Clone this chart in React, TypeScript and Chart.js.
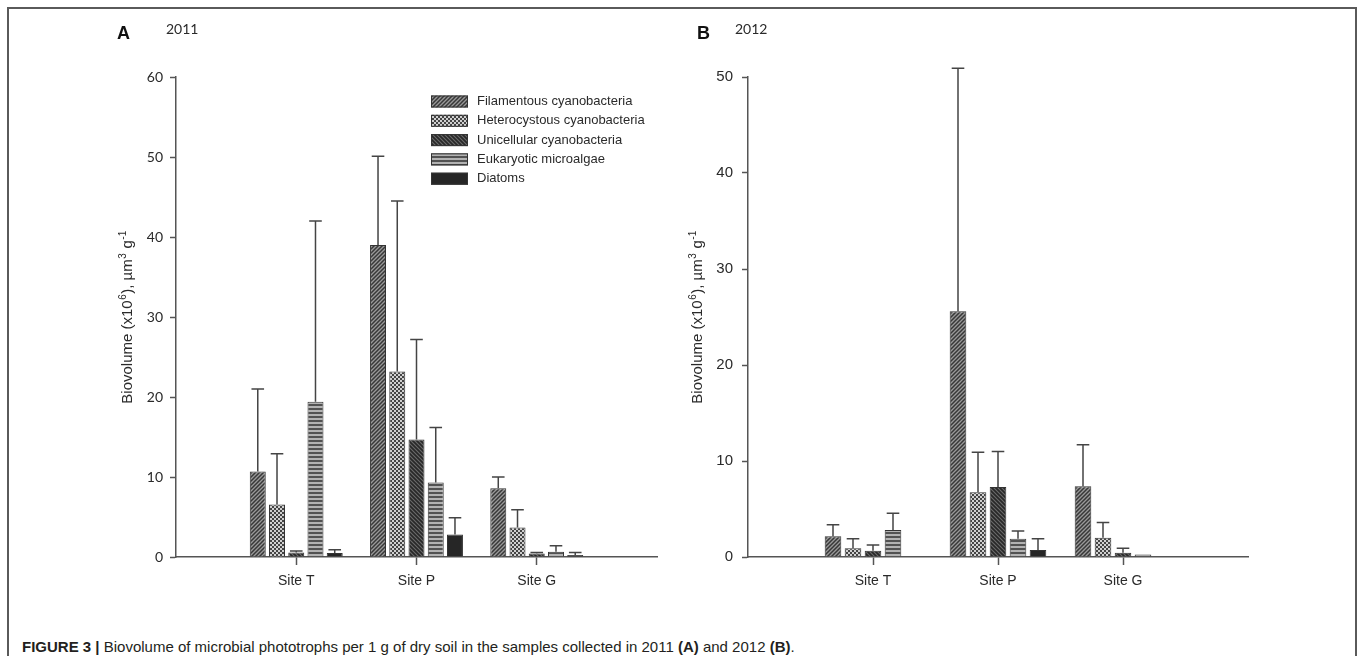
import React, { useEffect, useRef } from 'react';
import { Chart, registerables } from 'chart.js';

Chart.register(...registerables);

// ---------- data ----------
const categories = ['', 'Site T', 'Site P', 'Site G', ''];
const seriesNames = [
  'Filamentous cyanobacteria',
  'Heterocystous cyanobacteria',
  'Unicellular cyanobacteria',
  'Eukaryotic microalgae',
  'Diatoms',
];

// 2011 (panel A) – order: Site T, Site P, Site G
const filamentous2011 = [10.7, 39.0, 8.6];
const filamentous2011Err = [10.3, 11.1, 1.4];
const heterocystous2011 = [6.55, 23.2, 3.7];
const heterocystous2011Err = [6.35, 21.3, 2.2];
const unicellular2011 = [0.55, 14.7, 0.45];
const unicellular2011Err = [0.2, 12.5, 0.1];
const eukaryotic2011 = [19.4, 9.3, 0.65];
const eukaryotic2011Err = [22.6, 6.9, 0.75];
const diatoms2011 = [0.5, 2.8, 0.25];
const diatoms2011Err = [0.4, 2.1, 0.3];

// 2012 (panel B)
const filamentous2012 = [2.15, 25.6, 7.36];
const filamentous2012Err = [1.22, 25.3, 4.34];
const heterocystous2012 = [0.9, 6.74, 2.0];
const heterocystous2012Err = [1.0, 4.16, 1.6];
const unicellular2012 = [0.66, 7.3, 0.45];
const unicellular2012Err = [0.59, 3.7, 0.45];
const eukaryotic2012 = [2.8, 1.9, 0.25];
const eukaryotic2012Err = [1.75, 0.8, 0];
const diatoms2012 = [0.05, 0.73, 0];
const diatoms2012Err = [0, 1.17, 0];

const yTicks2011 = { max: 60, step: 10 };
const yTicks2012 = { max: 50, step: 10 };

// ---------- styling helpers ----------
const AXIS = '#555555';
const TEXT = '#2a2a2a';
const ARIAL = '"Liberation Sans", Arial, Helvetica, sans-serif';
const CALIBRI = 'Lato, "Open Sans", sans-serif';

function makePattern(kind: string): CanvasPattern | string {
  const c = document.createElement('canvas');
  const ctx = c.getContext('2d')!;
  c.width = 4;
  c.height = 4;
  if (kind === 'fil') {
    ctx.fillStyle = '#999999';
    ctx.fillRect(0, 0, 4, 4);
    ctx.strokeStyle = '#383838';
    ctx.lineWidth = 1.5;
    ctx.beginPath();
    ctx.moveTo(0, 4); ctx.lineTo(4, 0);
    ctx.moveTo(-1, 1); ctx.lineTo(1, -1);
    ctx.moveTo(3, 5); ctx.lineTo(5, 3);
    ctx.stroke();
  } else if (kind === 'uni') {
    ctx.fillStyle = '#6a6a6a';
    ctx.fillRect(0, 0, 4, 4);
    ctx.strokeStyle = '#282828';
    ctx.lineWidth = 1.7;
    ctx.beginPath();
    ctx.moveTo(0, 0); ctx.lineTo(4, 4);
    ctx.moveTo(-1, 3); ctx.lineTo(1, 5);
    ctx.moveTo(3, -1); ctx.lineTo(5, 1);
    ctx.stroke();
  } else if (kind === 'het') {
    ctx.fillStyle = '#444444';
    ctx.fillRect(0, 0, 4, 4);
    ctx.fillStyle = '#d0d0d0';
    ctx.fillRect(0, 0, 2, 2);
    ctx.fillRect(2, 2, 2, 2);
  } else if (kind === 'euk') {
    ctx.fillStyle = '#b2b2b2';
    ctx.fillRect(0, 0, 4, 4);
    ctx.fillStyle = '#525252';
    ctx.fillRect(0, 0, 4, 2);
  } else {
    return '#262626';
  }
  return ctx.createPattern(c, 'repeat')!;
}

const errorBarPlugin = {
  id: 'errorBars',
  afterDatasetsDraw(chart: any) {
    const ctx = chart.ctx;
    const yScale = chart.scales.y;
    chart.data.datasets.forEach((ds: any, di: number) => {
      const meta = chart.getDatasetMeta(di);
      meta.data.forEach((el: any, i: number) => {
        const v = ds.data[i];
        const err = ds.errors ? ds.errors[i] : 0;
        if (v == null || !err) return;
        const yTop = yScale.getPixelForValue(v);
        const yErr = yScale.getPixelForValue(v + err);
        ctx.save();
        ctx.strokeStyle = '#444';
        ctx.lineWidth = 1.5;
        ctx.beginPath();
        ctx.moveTo(el.x, yTop);
        ctx.lineTo(el.x, yErr);
        ctx.moveTo(el.x - 6.3, yErr);
        ctx.lineTo(el.x + 6.3, yErr);
        ctx.stroke();
        ctx.restore();
      });
    });
  },
};

function drawYTitle(ctx: CanvasRenderingContext2D, xBase: number, yCenter: number) {
  const segs = [
    { t: 'Biovolume (x10', sup: false },
    { t: '6', sup: true },
    { t: '), \u00b5m', sup: false },
    { t: '3', sup: true },
    { t: ' g', sup: false },
    { t: '-1', sup: true },
  ];
  const main = `15px ${ARIAL}`;
  const small = `10px ${ARIAL}`;
  let total = 0;
  const widths = segs.map((s) => {
    ctx.font = s.sup ? small : main;
    const w = ctx.measureText(s.t).width + (s.sup ? 1 : 0);
    total += w;
    return w;
  });
  ctx.save();
  ctx.translate(xBase, yCenter);
  ctx.rotate(-Math.PI / 2);
  ctx.fillStyle = TEXT;
  ctx.textBaseline = 'alphabetic';
  ctx.textAlign = 'left';
  let x = -total / 2;
  segs.forEach((s, i) => {
    ctx.font = s.sup ? small : main;
    ctx.fillText(s.t, x + (s.sup ? 0.5 : 0), s.sup ? -6 : 0);
    x += widths[i];
  });
  ctx.restore();
}

interface PanelCfg {
  letter: string;
  year: string;
  letterX: number;
  yearX: number;
  titleX: number;
  values: number[][];
  errors: number[][];
  yMax: number;
  yStep: number;
  padding: { left: number; right: number; top: number; bottom: number };
  tickFont: { family: string; size: number };
  tickPad: number;
  legend: boolean;
}

const panelA: PanelCfg = {
  letter: 'A',
  year: '2011',
  letterX: 117,
  yearX: 166,
  titleX: 132,
  values: [filamentous2011, heterocystous2011, unicellular2011, eukaryotic2011, diatoms2011],
  errors: [filamentous2011Err, heterocystous2011Err, unicellular2011Err, eukaryotic2011Err, diatoms2011Err],
  yMax: yTicks2011.max,
  yStep: yTicks2011.step,
  padding: { left: 116, right: 33, top: 77, bottom: 23 },
  tickFont: { family: CALIBRI, size: 14 },
  tickPad: 7,
  legend: true,
};

const panelB: PanelCfg = {
  letter: 'B',
  year: '2012',
  letterX: 17,
  yearX: 55,
  titleX: 22,
  values: [filamentous2012, heterocystous2012, unicellular2012, eukaryotic2012, diatoms2012],
  errors: [filamentous2012Err, heterocystous2012Err, unicellular2012Err, eukaryotic2012Err, diatoms2012Err],
  yMax: yTicks2012.max,
  yStep: yTicks2012.step,
  padding: { left: 8, right: 110, top: 77, bottom: 23 },
  tickFont: { family: ARIAL, size: 15 },
  tickPad: 9,
  legend: false,
};

function buildChart(canvas: HTMLCanvasElement, p: PanelCfg, pats: (CanvasPattern | string)[]) {
  const datasets = p.values.map((vals, i) => ({
    label: seriesNames[i],
    data: [null, ...vals, null],
    errors: [0, ...p.errors[i], 0],
    backgroundColor: pats[i],
    borderColor: '#333',
    borderWidth: 1,
    categoryPercentage: 0.8,
    barPercentage: 0.83,
  }));

  const decor = {
    id: 'decor' + p.letter,
    afterDraw(chart: any) {
      const ctx: CanvasRenderingContext2D = chart.ctx;
      const area = chart.chartArea;
      ctx.save();
      ctx.fillStyle = '#111';
      ctx.textBaseline = 'middle';
      ctx.textAlign = 'left';
      ctx.font = `bold 18px ${ARIAL}`;
      ctx.fillText(p.letter, p.letterX, 34);
      ctx.fillStyle = TEXT;
      ctx.font = `14px ${CALIBRI}`;
      ctx.fillText(p.year, p.yearX, 29);
      ctx.restore();
      drawYTitle(ctx, p.titleX, (area.top + area.bottom) / 2);
      if (p.legend) {
        ctx.save();
        for (let i = 0; i < seriesNames.length; i++) {
          const yc = 101.5 + i * 19.3;
          ctx.fillStyle = pats[i] as any;
          ctx.fillRect(431, yc - 6, 37, 12);
          ctx.strokeStyle = '#333';
          ctx.lineWidth = 1;
          ctx.strokeRect(431.5, yc - 5.5, 36, 11);
          ctx.fillStyle = TEXT;
          ctx.font = `13px ${ARIAL}`;
          ctx.textBaseline = 'middle';
          ctx.fillText(seriesNames[i], 477, yc);
        }
        ctx.restore();
      }
    },
  };

  return new Chart(canvas, {
    type: 'bar',
    data: { labels: categories, datasets: datasets as any },
    options: {
      responsive: false,
      animation: false,
      layout: { padding: p.padding },
      plugins: {
        legend: { display: false },
        tooltip: { enabled: false },
        title: { display: false },
      },
      scales: {
        x: {
          type: 'category',
          offset: false,
          grid: {
            offset: false,
            drawOnChartArea: false,
            drawTicks: true,
            tickLength: 8,
            tickWidth: 1.5,
            tickColor: (c: any) => (c.index === 0 || c.index === categories.length - 1 ? 'rgba(0,0,0,0)' : AXIS),
          },
          border: { display: true, color: AXIS, width: 1.5 },
          ticks: {
            font: { family: ARIAL, size: 14 },
            color: TEXT,
            padding: 8,
            autoSkip: false,
            maxRotation: 0,
          },
          afterFit: (s: any) => {
            s.height = 30;
          },
        } as any,
        y: {
          min: 0,
          max: p.yMax,
          grid: { drawOnChartArea: false, drawTicks: true, tickLength: 6, tickWidth: 1.5, tickColor: AXIS },
          border: { display: true, color: AXIS, width: 1.5 },
          ticks: { stepSize: p.yStep, font: p.tickFont, color: TEXT, padding: p.tickPad },
          afterFit: (s: any) => {
            s.width = 60;
          },
        } as any,
      },
    },
    plugins: [errorBarPlugin, decor],
  });
}

export default function App() {
  const refA = useRef<HTMLCanvasElement>(null);
  const refB = useRef<HTMLCanvasElement>(null);

  useEffect(() => {
    const pats = [makePattern('fil'), makePattern('het'), makePattern('uni'), makePattern('euk'), makePattern('dia')];
    const a = buildChart(refA.current!, panelA, pats);
    const b = buildChart(refB.current!, panelB, pats);
    return () => {
      a.destroy();
      b.destroy();
    };
  }, []);

  return (
    <div
      style={{
        position: 'absolute',
        left: 0,
        top: 0,
        width: 1358,
        height: 656,
        overflow: 'hidden',
        background: '#ffffff',
      }}
    >
      <div
        style={{
          position: 'absolute',
          left: 7,
          top: 7,
          width: 1350,
          height: 720,
          boxSizing: 'border-box',
          border: '2px solid #5a5a5a',
        }}
      />
      <canvas ref={refA} width={690} height={610} style={{ position: 'absolute', left: 0, top: 0 }} />
      <canvas ref={refB} width={678} height={610} style={{ position: 'absolute', left: 680, top: 0 }} />
      <div
        style={{
          position: 'absolute',
          left: 22,
          top: 638,
          font: `15px ${ARIAL}`,
          lineHeight: '17px',
          color: '#231f20',
          whiteSpace: 'nowrap',
        }}
      >
        <b>FIGURE 3 |</b> Biovolume of microbial phototrophs per 1 g of dry soil in the samples collected in 2011{' '}
        <b>(A)</b> and 2012 <b>(B)</b>.
      </div>
    </div>
  );
}
